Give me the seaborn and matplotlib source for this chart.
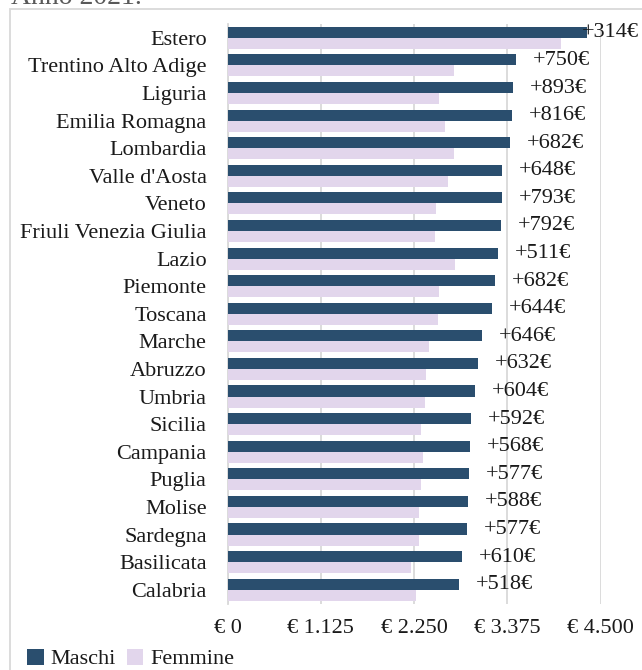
import matplotlib
matplotlib.use("Agg")
import matplotlib.pyplot as plt
from matplotlib.patches import Rectangle
from matplotlib.ticker import FixedLocator, FuncFormatter
import seaborn as sns
import pandas as pd

regioni = ["Estero", "Trentino Alto Adige", "Liguria", "Emilia Romagna", "Lombardia",
           "Valle d'Aosta", "Veneto", "Friuli Venezia Giulia", "Lazio", "Piemonte",
           "Toscana", "Marche", "Abruzzo", "Umbria", "Sicilia", "Campania", "Puglia",
           "Molise", "Sardegna", "Basilicata", "Calabria"]
maschi = [4330, 3478, 3438, 3433, 3409, 3309, 3305, 3297, 3257, 3229, 3184,
          3072, 3024, 2983, 2931, 2927, 2911, 2899, 2891, 2827, 2795]
femmine = [4016, 2728, 2545, 2617, 2727, 2661, 2512, 2505, 2746, 2547, 2540,
           2426, 2392, 2379, 2339, 2359, 2334, 2311, 2314, 2217, 2277]
tick_valori = [0, 1125, 2250, 3375, 4500]

sns.set_theme(style="white")
plt.rcParams["font.family"] = ["Liberation Serif", "DejaVu Serif"]

FS = 16
TXT = "#1a1a1a"

df = pd.DataFrame({
    "regione": regioni * 2,
    "reddito": maschi + femmine,
    "sesso": ["Maschi"] * len(regioni) + ["Femmine"] * len(regioni),
})

fig = plt.figure(figsize=(6.42, 6.70), dpi=100)
ax = fig.add_axes([227.5 / 642, 1 - 603.5 / 670, (600.7 - 227.5) / 642, (603.5 - 24) / 670])

# outer chart frame
fig.patches.append(Rectangle((10.5 / 642, -0.1), 1.2, 1 - 9 / 670 + 0.1,
                             transform=fig.transFigure, fill=False,
                             edgecolor="#d9d9d9", linewidth=1.3, zorder=0))
fig.text(11 / 642, 1 - 4 / 670, "Anno 2021.", fontsize=20, color="#595959",
         ha="left", va="baseline")

sns.barplot(data=df, y="regione", x="reddito", hue="sesso", orient="h",
            palette={"Maschi": "#1F4E79", "Femmine": "#E2D3EF"},
            width=0.8, linewidth=0, ax=ax, legend=True, zorder=3)

ax.set_xlim(0, 4500)
ax.set_ylim(len(regioni) - 0.5, -0.5)
ax.xaxis.set_major_locator(FixedLocator(tick_valori))
ax.xaxis.set_major_formatter(FuncFormatter(lambda v, p: "€ " + f"{int(v):,}".replace(",", ".")))
ax.grid(axis="x", color="#d9d9d9", linewidth=1.3, zorder=0)
ax.grid(axis="y", visible=False)
for s in ["top", "right", "bottom"]:
    ax.spines[s].set_visible(False)
ax.spines["left"].set_color("#d9d9d9")
ax.spines["left"].set_linewidth(1.3)
ax.set_xlabel("")
ax.set_ylabel("")
ax.tick_params(axis="both", length=0, labelsize=FS, colors=TXT)
ax.tick_params(axis="x", pad=11)
ax.tick_params(axis="y", pad=15)

# difference labels next to the male bars; the widest bar keeps its label inside the figure
for i, (m, f) in enumerate(zip(maschi, femmine)):
    testo = f"+{m - f}€"
    off = 17 if m < 3900 else -5
    ax.annotate(testo, xy=(m, i - 0.18), xytext=(off, 0), textcoords="offset pixels",
                ha="left", va="center", fontsize=FS, color=TXT,
                annotation_clip=False, zorder=5)

leg = ax.legend(loc="center left", bbox_to_anchor=(27 / 642, 1 - 659 / 670),
                bbox_transform=fig.transFigure, ncol=2, frameon=False,
                fontsize=FS, handlelength=0.75, handleheight=0.75,
                handletextpad=0.3, columnspacing=0.5, borderaxespad=0,
                borderpad=0)
for t in leg.get_texts():
    t.set_color(TXT)

fig.savefig("out.png", dpi=100)
